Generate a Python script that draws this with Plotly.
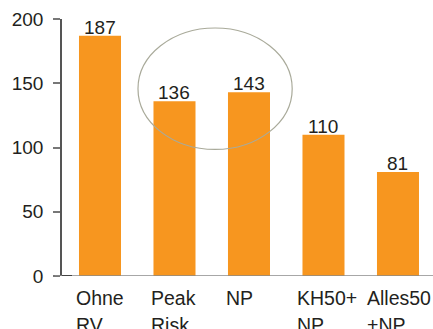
import plotly.graph_objects as go

# Category labels (line-broken as printed) and values
categories = ["Ohne\nRV", "Peak\nRisk", "NP", "KH50+\nNP", "Alles50\n+NP"]
values = [187, 136, 143, 110, 81]
y_ticks = [0, 50, 100, 150, 200]

BAR = "#F7961F"
TXT = "#231F20"
FONT = "Liberation Sans, Arial, sans-serif"

x_idx = list(range(len(categories)))

fig = go.Figure()
fig.add_trace(go.Bar(
    x=x_idx, y=values, marker=dict(color=BAR, line=dict(width=0)),
    width=0.564, hoverinfo="skip",
))

# value labels sitting on top of each bar
for i, v in zip(x_idx, values):
    fig.add_annotation(x=i, y=v, text=str(v), showarrow=False,
                       xref="x", yref="y", yanchor="bottom", yshift=-4,
                       font=dict(family=FONT, size=19, color=TXT))

# left-aligned, two-line category labels below the axis
label_offsets = [-0.35, -0.34, -0.34, -0.38, -0.44]
for i, name in zip(x_idx, categories):
    for k, line in enumerate(name.split("\n")):
        fig.add_annotation(x=i + label_offsets[i], y=0, text=line, showarrow=False,
                           xref="x", yref="paper", xanchor="left", yanchor="top",
                           yshift=-9 - 27 * k,
                           font=dict(family=FONT, size=19.5, color=TXT))

# highlight ellipse around the middle pair
fig.add_shape(type="circle", xref="x", yref="y", x0=0.51, x1=2.58, y0=98.5, y1=193,
              line=dict(color="#A9AA9A", width=1.2), layer="above")

# baseline extending past the y axis
fig.add_shape(type="line", xref="paper", yref="y", x0=-7 / 371, x1=1, y0=0, y1=0,
              line=dict(color="#8A8A8A", width=1.5), layer="above")
fig.add_shape(type="line", xref="paper", yref="y", x0=0, x1=10 / 371, y0=0, y1=0,
              line=dict(color="#222222", width=1.5), layer="above")

fig.update_layout(
    width=433, height=329,
    margin=dict(l=62, r=0, t=19, b=53),
    paper_bgcolor="white", plot_bgcolor="white",
    showlegend=False,
    xaxis=dict(range=[-0.51, 4.47], showticklabels=False, showgrid=False,
               zeroline=False, showline=False, ticks=""),
    yaxis=dict(range=[0, 200], tickvals=y_ticks, showgrid=False, zeroline=False,
               showline=True, linecolor="#555555", linewidth=1.5,
               ticks="outside", ticklen=7, tickcolor="#777777", tickwidth=1.5,
               ticklabelstandoff=6,
               tickfont=dict(family=FONT, size=19, color=TXT)),
)

fig.write_html("out.html")
